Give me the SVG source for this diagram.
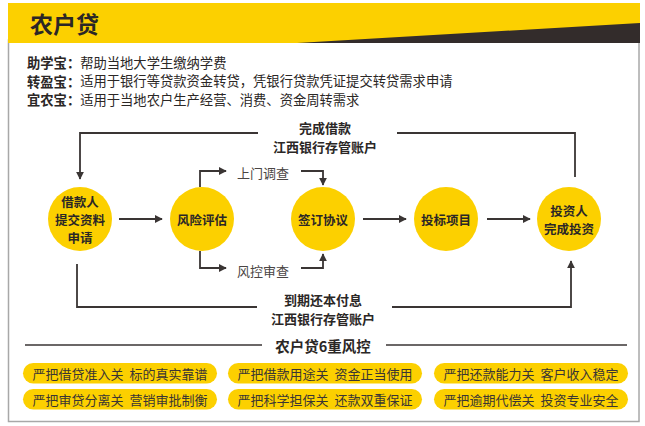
<svg xmlns="http://www.w3.org/2000/svg" width="645" height="426" viewBox="0 0 645 426">
<style>
text{font-family:"Noto Sans CJK SC","Noto Sans",sans-serif;fill:#2b2726;dominant-baseline:central}
.b{font-weight:bold}
.t{font-size:13.3px}
.c{font-size:13px;font-weight:bold;text-anchor:middle}
.cc{font-size:12.5px;font-weight:bold;text-anchor:middle}
.lbl{font-size:13px;fill:#4a4544}
.p{font-size:13px;text-anchor:middle;fill:#3a3534}
.ln{fill:none;stroke:#3a3534;stroke-width:1.8}
.circ{fill:#FCD000}
.pill{fill:#FCD000}
</style>
<defs>
<marker id="ah" viewBox="0 0 10 10" refX="9" refY="5" markerWidth="4.5" markerHeight="4.5" orient="auto" markerUnits="strokeWidth">
<path d="M0,0 L10,5 L0,10 z" fill="#3a3534"/>
</marker>
</defs>
<!-- frame -->
<rect x="8.5" y="40" width="630.5" height="381.5" fill="#fff" stroke="#a8a8a8" stroke-width="1.5"/>
<g id="header">
<rect x="8" y="3" width="632" height="40" fill="#FCD000"/>
<polygon points="297,43 640,23 640,43" fill="#332c2b"/>
<text x="30" y="23" style="font-size:23px;font-weight:bold" fill="#231815">农户贷</text>
</g>
<g id="desc" class="t">
<text x="27" y="62"><tspan class="b">助学宝：</tspan>帮助当地大学生缴纳学费</text>
<text x="27" y="80.5"><tspan class="b">转盈宝：</tspan>适用于银行等贷款资金转贷，凭银行贷款凭证提交转贷需求申请</text>
<text x="27" y="99"><tspan class="b">宜农宝：</tspan>适用于当地农户生产经营、消费、资金周转需求</text>
</g>
<g id="connectors">
<path class="ln" d="M258,133 H80 V179" marker-end="url(#ah)"/>
<path class="ln" d="M397,133 H575 V177"/>
<path class="ln" d="M77,264 V307 H257"/>
<path class="ln" d="M392,307 H571 V261" marker-end="url(#ah)"/>
<path class="ln" d="M119,219 H162" marker-end="url(#ah)"/>
<path class="ln" d="M363,219 H406" marker-end="url(#ah)"/>
<path class="ln" d="M487,219 H530" marker-end="url(#ah)"/>
<path class="ln" d="M200,187 V171 H226" marker-end="url(#ah)"/>
<path class="ln" d="M200,251 V268 H226" marker-end="url(#ah)"/>
<path class="ln" d="M301,171 H323 V185" marker-end="url(#ah)"/>
<path class="ln" d="M301,268 H323 V254" marker-end="url(#ah)"/>
<text class="c" x="325" y="127">完成借款<tspan x="325" dy="18.5">江西银行存管账户</tspan></text>
<text class="c" x="323" y="299">到期还本付息<tspan x="323" dy="18.5">江西银行存管账户</tspan></text>
<text class="lbl" x="237" y="172">上门调查</text>
<text class="lbl" x="237" y="270">风控审查</text>
</g>
<g id="n1"><circle class="circ" cx="80" cy="219" r="32"/>
<text class="cc" x="80" y="201">借款人<tspan x="80" dy="18">提交资料</tspan><tspan x="80" dy="18">申请</tspan></text></g>
<g id="n2"><circle class="circ" cx="202" cy="219" r="32"/><text class="cc" x="202" y="219">风险评估</text></g>
<g id="n3"><circle class="circ" cx="323" cy="219" r="32"/><text class="cc" x="323" y="219">签订协议</text></g>
<g id="n4"><circle class="circ" cx="446" cy="219" r="32"/><text class="cc" x="446" y="219">投标项目</text></g>
<g id="n5"><circle class="circ" cx="569" cy="219" r="32"/>
<text class="cc" x="569" y="210">投资人<tspan x="569" dy="18">完成投资</tspan></text></g>
<g id="risk">
<line class="ln" x1="25" y1="345" x2="262" y2="345" style="stroke-width:1.5"/>
<line class="ln" x1="386" y1="345" x2="627" y2="345" style="stroke-width:1.5"/>
<text x="323" y="345" style="font-size:14.5px;font-weight:bold;text-anchor:middle">农户贷6重风控</text>
</g>
<g id="pills">
<rect class="pill" x="23" y="363" width="194" height="20.5" rx="10.25"/>
<rect class="pill" x="228" y="363" width="194" height="20.5" rx="10.25"/>
<rect class="pill" x="434" y="363" width="194" height="20.5" rx="10.25"/>
<rect class="pill" x="23" y="389" width="194" height="20.5" rx="10.25"/>
<rect class="pill" x="228" y="389" width="194" height="20.5" rx="10.25"/>
<rect class="pill" x="434" y="389" width="194" height="20.5" rx="10.25"/>
<text class="p" x="120" y="373.5" xml:space="preserve">严把借贷准入关  标的真实靠谱</text>
<text class="p" x="325" y="373.5" xml:space="preserve">严把借款用途关  资金正当使用</text>
<text class="p" x="531" y="373.5" xml:space="preserve">严把还款能力关  客户收入稳定</text>
<text class="p" x="120" y="399.5" xml:space="preserve">严把审贷分离关  营销审批制衡</text>
<text class="p" x="325" y="399.5" xml:space="preserve">严把科学担保关  还款双重保证</text>
<text class="p" x="531" y="399.5" xml:space="preserve">严把逾期代偿关  投资专业安全</text>
</g>
</svg>
